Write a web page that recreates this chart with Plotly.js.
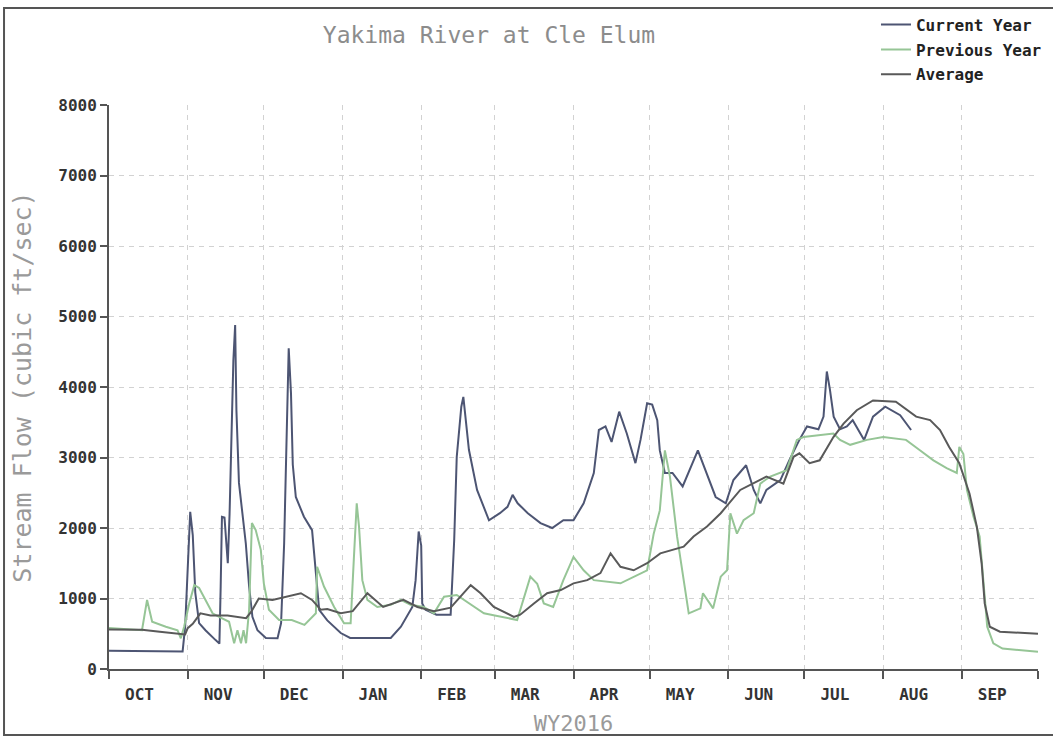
<!DOCTYPE html>
<html>
<head>
<meta charset="utf-8">
<script src="https://cdn.plot.ly/plotly-3.0.1.min.js"></script>
<style>html,body{margin:0;padding:0;background:#fff}#chart{width:1053px;height:738px}</style>
</head>
<body>
<div id="chart"></div>
<script>
// Day of water year 2016 (0 = 1 Oct 2015) and flow in cubic ft/sec
const curDays = [0,29,30,31.5,32,33,34,35.5,38,42,43.5,44,44.5,45.5,46.3,46.8,47.5,48.3,49,49.7,50.2,51.2,52.6,53.9,55.2,56.5,58.5,61.8,66.4,67.8,69,69.7,70.8,71.7,72.4,73.6,76.8,80,81.5,82.8,86,91.3,95,111,115,119.5,120.8,122,123,123.4,124.7,129,134.6,136,137,138.8,139.6,140.5,141.8,145,149.7,154,157,159,161,165,170,174.6,179,183,187,191,193,195.6,198,201,204,207.4,209.4,212,214,216,217,219,222,226,232,239,243,246,251,254,256.6,259,264.5,268,272,275,279.5,281.5,282.8,284,285.5,288,290.7,293,297.5,301,305.8,311.7,316];
const curFlow = [260,250,600,1700,2230,1900,1080,650,550,410,360,1170,2160,2150,1780,1500,2200,3580,4380,4880,3670,2640,2160,1780,1170,740,550,440,435,650,1780,2960,4550,3910,2900,2440,2160,1970,1400,840,690,510,440,440,600,880,1260,1950,1750,930,840,770,770,1830,3010,3720,3860,3530,3110,2540,2110,2210,2300,2470,2350,2210,2070,2000,2110,2110,2350,2780,3390,3440,3220,3650,3340,2920,3250,3770,3750,3530,3100,2780,2780,2590,3100,2440,2350,2680,2890,2540,2350,2540,2680,2960,3250,3440,3400,3580,4220,3970,3580,3400,3440,3530,3250,3580,3720,3600,3390];

const prevDays = [0,13,15,17,22.4,27,28.3,29.6,31.6,33.6,35.5,38,40.8,43.4,47.3,49.3,50.6,52,53,54,55.2,56.3,57.8,59.8,61,63,67,72,77,81.5,82,84.7,88.7,92.6,95.2,96.5,97.6,98.5,99.8,101.8,105.7,111,115,118.8,124,128,132,137,142.5,147.7,152,160.8,166,168.7,171.3,175,179,183,187,191,201.5,212,214.6,217,219,221,223.8,228.4,233,234,238,241,243.5,244.8,247.4,250,254,256.6,260.5,267,271,273.6,285.4,288,292,298.6,305,314,319.6,324.8,330,334,335,336.6,338,340.6,343,344.5,346,348.4,352,366];
const prevFlow = [580,550,980,670,600,550,435,600,930,1190,1150,980,790,740,670,365,550,365,550,365,840,2070,1970,1690,1215,840,695,695,625,790,1450,1170,880,650,650,1590,2350,2020,1260,980,880,910,980,910,880,790,1025,1050,910,790,760,695,1310,1210,930,880,1260,1590,1400,1260,1215,1400,1920,2250,3100,2730,1880,790,860,1075,860,1310,1400,2210,1920,2110,2210,2630,2730,2820,3250,3290,3340,3250,3180,3250,3290,3250,3100,2960,2850,2780,3150,3050,2540,2160,1880,1215,600,365,290,245];

const avgDays = [0,13,20,30,31,33,36,40,46.7,54,56,59,64.4,69.7,75.6,80,83.4,86,91.3,96,101.8,108,116,121.5,128,134.6,142.5,146.4,151.6,159.5,162,167.4,172.6,178,183,188.4,193.6,197.6,201.5,206.7,212,217.2,222.5,226.4,230.3,235.6,241,248.7,259,265.7,269.7,272,276,280,285.4,289.4,294.6,301,310,318,323.5,327.4,331,335,339,341.9,343.8,345,347,351,366];
const avgFlow = [560,555,530,490,580,640,790,760,760,720,810,1000,980,1025,1075,980,840,850,790,820,1075,880,980,880,820,870,1190,1075,880,740,770,930,1075,1120,1215,1260,1360,1640,1450,1400,1500,1640,1690,1735,1880,2020,2210,2540,2730,2630,3010,3060,2920,2960,3290,3480,3670,3810,3790,3580,3530,3390,3150,2920,2490,2020,1500,930,600,530,500];

const monthStarts = [0,31,61,92,123,152,183,213,244,274,305,336,366];
const monthLabelPos = [12,43,73,104,135,164,195,225,256,286,317,348];
const monthLabels = ['OCT','NOV','DEC','JAN','FEB','MAR','APR','MAY','JUN','JUL','AUG','SEP'];

const MONO = 'DejaVu Sans Mono, monospace';

const traces = [
  {x: curDays, y: curFlow, name: 'Current Year', mode: 'lines', legendgroup: 'a',
   line: {color: '#4d5573', width: 2}},
  {x: prevDays, y: prevFlow, name: 'Previous Year', mode: 'lines', legendgroup: 'b',
   line: {color: '#96c596', width: 2}},
  {x: avgDays, y: avgFlow, name: 'Average', mode: 'lines', legendgroup: 'c',
   line: {color: '#595959', width: 2}}
];

const layout = {
  width: 1053, height: 738,
  margin: {l: 109, r: 15, t: 105, b: 69, autoexpand: false},
  paper_bgcolor: '#ffffff', plot_bgcolor: '#ffffff',
  showlegend: true,
  title: {text: 'Yakima River at Cle Elum', xref: 'container', x: 0.4644, xanchor: 'center',
          yref: 'container', y: 0.953, yanchor: 'middle',
          font: {family: MONO, size: 23, color: '#8c8c8c'}},
  legend: {x: 0.8256, y: 1.1725, xanchor: 'left', yanchor: 'top', traceorder: 'grouped',
           tracegroupgap: 1, bgcolor: 'rgba(0,0,0,0)', itemwidth: 30,
           font: {family: MONO, size: 16, color: '#222', weight: 'bold'}},
  xaxis: {range: [0, 366], tickvals: monthLabelPos, ticktext: monthLabels, ticks: '',
          showgrid: false, zeroline: false, showline: true, linecolor: '#555', linewidth: 2,
          ticklabelstandoff: 10,
          tickfont: {family: MONO, size: 16, color: '#333', weight: 'bold'},
          minor: {tickvals: monthStarts, ticks: 'outside', ticklen: 8, tickcolor: '#555', tickwidth: 2,
                  showgrid: true, gridcolor: '#d2d2d2', griddash: '5px,5px', gridwidth: 1},
          title: {text: 'WY2016', standoff: 12, font: {family: MONO, size: 22, color: '#9a9a9a'}}},
  yaxis: {range: [0, 8000], tickvals: [0,1000,2000,3000,4000,5000,6000,7000,8000],
          ticks: 'outside', ticklen: 7, tickcolor: '#555', tickwidth: 2,
          showline: true, linecolor: '#555', linewidth: 2, zeroline: false,
          showgrid: true, gridcolor: '#d2d2d2', griddash: '5px,5px', gridwidth: 1,
          tickfont: {family: MONO, size: 16, color: '#333', weight: 'bold'},
          title: {text: 'Stream Flow (cubic ft/sec)', standoff: 20,
                  font: {family: MONO, size: 25, color: '#9a9a9a'}}},
  shapes: [
    {type: 'rect', xref: 'paper', yref: 'paper', x0: -0.113, x1: 1.03, y0: -0.117, y1: 1.172,
     line: {color: '#555', width: 2}, fillcolor: 'rgba(0,0,0,0)', layer: 'below'}
  ]
};

Plotly.newPlot('chart', traces, layout, {displayModeBar: false, staticPlot: true});
</script>
</body>
</html>
